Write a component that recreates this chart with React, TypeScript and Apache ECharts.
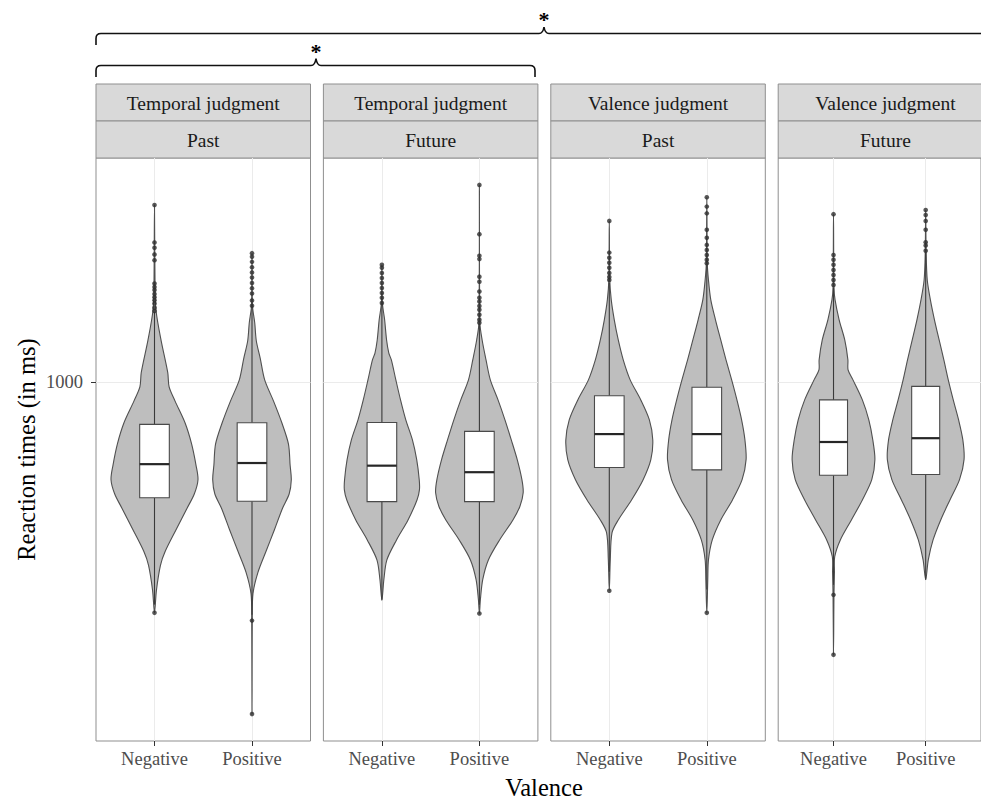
import React, { useEffect, useRef } from 'react';
import * as echarts from 'echarts';

// ---------- data ----------
const taskLabels = ['Temporal judgment', 'Temporal judgment', 'Valence judgment', 'Valence judgment'];
const timeLabels = ['Past', 'Future', 'Past', 'Future'];
const valenceCategories = ['Negative', 'Positive'];
const yTickValues = [1000];
const yTitle = 'Reaction times (in ms)';
const xTitle = 'Valence';
const significanceMarks = ['*', '*'];

// violin outlines: [reaction time (ms), half width in category units]
const tempPastNeg = [[1872, 0], [1385, 0.006], [1282, 0.017], [1157, 0.068], [1033, 0.136], [982, 0.15], [934, 0.211], [865, 0.313], [802, 0.381], [744, 0.426], [707, 0.446], [672, 0.408], [639, 0.334], [592, 0.221], [548, 0.109], [522, 0.061], [478, 0.02], [441, 0]];
const tempPastPos = [[1578, 0], [1310, 0.005], [1233, 0.028], [1157, 0.044], [1086, 0.085], [1007, 0.13], [934, 0.221], [865, 0.306], [802, 0.374], [744, 0.391], [707, 0.403], [672, 0.381], [639, 0.313], [592, 0.23], [548, 0.143], [509, 0.061], [472, 0.01], [429, 0.003], [308, 0]];
const tempFutNeg = [[1514, 0], [1323, 0.005], [1246, 0.028], [1160, 0.048], [1107, 0.071], [1081, 0.097], [1007, 0.143], [938, 0.191], [874, 0.245], [814, 0.313], [759, 0.357], [707, 0.383], [682, 0.385], [658, 0.36], [613, 0.268], [571, 0.15], [532, 0.051], [496, 0.02], [461, 0]];
const tempFutPos = [[2010, 0], [1233, 0.005], [1160, 0.028], [1081, 0.068], [1007, 0.112], [938, 0.191], [874, 0.262], [814, 0.327], [759, 0.388], [707, 0.436], [675, 0.449], [643, 0.415], [613, 0.344], [571, 0.207], [532, 0.092], [496, 0.034], [462, 0.01], [440, 0]];
const valPastNeg = [[1769, 0], [1435, 0.005], [1337, 0.02], [1246, 0.051], [1160, 0.092], [1081, 0.143], [1007, 0.214], [938, 0.323], [874, 0.411], [814, 0.446], [759, 0.426], [707, 0.347], [658, 0.228], [613, 0.092], [586, 0.028], [532, 0.01], [477, 0]];
const valPastPos = [[1924, 0], [1523, 0.005], [1435, 0.017], [1337, 0.041], [1246, 0.089], [1160, 0.143], [1081, 0.197], [1007, 0.255], [938, 0.309], [874, 0.357], [814, 0.391], [759, 0.403], [707, 0.362], [658, 0.263], [613, 0.143], [571, 0.056], [532, 0.017], [496, 0.01], [441, 0]];
const valFutNeg = [[1812, 0], [1400, 0.005], [1337, 0.017], [1246, 0.061], [1160, 0.122], [1081, 0.156], [1043, 0.158], [1007, 0.211], [938, 0.313], [874, 0.383], [814, 0.426], [759, 0.449], [707, 0.415], [658, 0.313], [613, 0.194], [571, 0.074], [538, 0.013], [509, 0.01], [470, 0.005], [380, 0]];
const valFutPos = [[1839, 0], [1580, 0.005], [1435, 0.017], [1337, 0.051], [1246, 0.095], [1160, 0.146], [1081, 0.197], [1007, 0.245], [938, 0.299], [874, 0.357], [814, 0.403], [759, 0.416], [707, 0.367], [658, 0.263], [613, 0.163], [571, 0.08], [532, 0.028], [496, 0]];

// box stats: [lower whisker, Q1, median, Q3, upper whisker]
const boxTempPast = [[454, 663, 747, 860, 1282], [438, 655, 750, 865, 1300]];
const boxTempFut = [[462, 654, 743, 866, 1315], [454, 654, 726, 839, 1225]];
const boxValPast = [[510, 738, 831, 952, 1420], [479, 732, 831, 981, 1510]];
const boxValFut = [[487, 718, 808, 938, 1395], [496, 720, 819, 984, 1580]];

// outliers (ms)
const outTempPastNeg = [1872, 1639, 1608, 1571, 1539, 1417, 1400, 1385, 1365, 1350, 1335, 1320, 1300, 1285, 441];
const outTempPastPos = [1578, 1558, 1530, 1501, 1474, 1447, 1420, 1394, 1368, 1334, 1310, 429, 308];
const outTempFutNeg = [1514, 1498, 1471, 1445, 1420, 1395, 1370, 1347, 1323];
const outTempFutPos = [2010, 1688, 1563, 1545, 1452, 1426, 1377, 1347, 1329, 1309, 1291, 1268, 1246, 1233, 440];
const outValPastNeg = [1769, 1581, 1552, 1525, 1498, 1471, 1450, 1435, 477];
const outValPastPos = [1924, 1861, 1817, 1714, 1666, 1625, 1596, 1568, 1541, 1523, 441];
const outValFutNeg = [1812, 1568, 1541, 1514, 1487, 1461, 1435, 1410, 470, 380];
const outValFutPos = [1839, 1807, 1769, 1714, 1640, 1621, 1591];

const Y_MIN = 280;
const Y_MAX = 2211;

const panelViolins = [
  [tempPastNeg, tempPastPos],
  [tempFutNeg, tempFutPos],
  [valPastNeg, valPastPos],
  [valFutNeg, valFutPos],
];
const panelBoxes = [boxTempPast, boxTempFut, boxValPast, boxValFut];
const panelOutliers = [
  [outTempPastNeg, outTempPastPos],
  [outTempFutNeg, outTempFutPos],
  [outValPastNeg, outValPastPos],
  [outValFutNeg, outValFutPos],
];

// ---------- layout ----------
const FONT = 'Liberation Serif';
const PANEL_LEFT0 = 96;
const PANEL_STEP = 227.4;
const PANEL_W = 214.5;
const PLOT_TOP = 158;
const PLOT_H = 583;
const STRIP_TOP = 84;
const STRIP_H = 37;
const BORDER = '#8f8f8f';

const dTop = 'M96 45 L96 38.5 Q96 33.5 101 33.5 L539 33.5 Q543 33.5 544 27 Q545 33.5 549 33.5 L987 33.5 Q992 33.5 992 38.5 L992 45';
const dLow = 'M96 77 L96 70.5 Q96 65.5 101 65.5 L311 65.5 Q315 65.5 316 58.5 Q317 65.5 321 65.5 L530 65.5 Q535 65.5 535 70.5 L535 77';
echarts.graphic.registerShape('braceTop', echarts.graphic.extendPath(dTop, {}));
echarts.graphic.registerShape('braceLow', echarts.graphic.extendPath(dLow, {}));

function buildOption() {
  const grid: any[] = [];
  const xAxis: any[] = [];
  const yAxis: any[] = [];
  const series: any[] = [];
  const graphic: any[] = [];

  for (let i = 0; i < 4; i++) {
    const left = PANEL_LEFT0 + i * PANEL_STEP;
    grid.push({
      left, top: PLOT_TOP, width: PANEL_W, height: PLOT_H,
      show: true, borderColor: BORDER, borderWidth: 1, backgroundColor: '#ffffff',
    });
    xAxis.push({
      type: 'value', gridIndex: i, min: 0.4, max: 2.6,
      axisLine: { show: false },
      axisTick: { show: true, customValues: [1, 2], length: 5, lineStyle: { color: '#333333', width: 1 } },
      axisLabel: {
        customValues: [1, 2],
        formatter: (v: number) => valenceCategories[Math.round(v) - 1] || '',
        color: '#4d4d4d', fontSize: 18.5, fontFamily: FONT, margin: 8,
      },
      splitLine: { show: true, lineStyle: { color: '#ebebeb', width: 1 } },
    });
    yAxis.push({
      type: 'log', logBase: 10, gridIndex: i, min: Y_MIN, max: Y_MAX,
      axisLine: { show: false },
      axisTick: { show: i === 0, customValues: yTickValues, length: 5, lineStyle: { color: '#333333', width: 1 } },
      axisLabel: {
        show: i === 0, customValues: yTickValues,
        formatter: (v: number) => String(Math.round(v)),
        color: '#4d4d4d', fontSize: 18.5, fontFamily: FONT, margin: 13,
      },
      splitLine: { show: true, lineStyle: { color: '#ebebeb', width: 1 } },
      name: i === 0 ? yTitle : '',
      nameLocation: 'middle',
      nameGap: 57,
      nameTextStyle: { color: '#000000', fontSize: 24.5, fontFamily: FONT },
    });

    const violins = panelViolins[i];
    const boxes = panelBoxes[i];
    series.push({
      type: 'custom', xAxisIndex: i, yAxisIndex: i, silent: true,
      data: boxes.map((b, k) => [k + 1, b[2]]),
      encode: { x: 0, y: 1 },
      renderItem: (params: any, api: any) => {
        const k = params.dataIndex;
        const outline = violins[k];
        const xc = k + 1;
        const right = outline.map(([v, w]) => api.coord([xc + w, v]));
        const leftSide = outline.filter(([, w]) => w > 0).map(([v, w]) => api.coord([xc - w, v])).reverse();
        return {
          type: 'polygon',
          shape: { points: right.concat(leftSide), smooth: 0.3 },
          style: { fill: '#bebebe', stroke: '#505050', lineWidth: 1.1 },
        };
      },
    });
    series.push({
      type: 'custom', xAxisIndex: i, yAxisIndex: i, silent: true,
      data: boxes.map((b, k) => [k + 1, b[2]]),
      encode: { x: 0, y: 1 },
      renderItem: (params: any, api: any) => {
        const k = params.dataIndex;
        const [lo, q1, med, q3, hi] = boxes[k];
        const xc = k + 1;
        const hw = 0.152;
        const tl = api.coord([xc - hw, q3]);
        const br = api.coord([xc + hw, q1]);
        const pHi = api.coord([xc, hi]);
        const pLo = api.coord([xc, lo]);
        const pQ3 = api.coord([xc, q3]);
        const pQ1 = api.coord([xc, q1]);
        const mL = api.coord([xc - hw, med]);
        const mR = api.coord([xc + hw, med]);
        return {
          type: 'group',
          children: [
            { type: 'line', shape: { x1: pHi[0], y1: pHi[1], x2: pQ3[0], y2: pQ3[1] }, style: { stroke: '#3a3a3a', lineWidth: 1.1 } },
            { type: 'line', shape: { x1: pLo[0], y1: pLo[1], x2: pQ1[0], y2: pQ1[1] }, style: { stroke: '#3a3a3a', lineWidth: 1.1 } },
            { type: 'rect', shape: { x: tl[0], y: tl[1], width: br[0] - tl[0], height: br[1] - tl[1] }, style: { fill: '#ffffff', stroke: '#4a4a4a', lineWidth: 1.1 } },
            { type: 'line', shape: { x1: mL[0], y1: mL[1], x2: mR[0], y2: mR[1] }, style: { stroke: '#262626', lineWidth: 2.2 } },
          ],
        };
      },
    });
    const outs = panelOutliers[i];
    series.push({
      type: 'scatter', xAxisIndex: i, yAxisIndex: i, silent: true,
      symbol: 'circle', symbolSize: 4.6,
      itemStyle: { color: '#2e2e2e' },
      data: [...outs[0].map((v) => [1, v]), ...outs[1].map((v) => [2, v])],
    });

    // strips
    graphic.push({
      type: 'rect', shape: { x: left, y: STRIP_TOP, width: PANEL_W, height: STRIP_H },
      style: { fill: '#d9d9d9', stroke: BORDER, lineWidth: 1 }, silent: true,
    });
    graphic.push({
      type: 'rect', shape: { x: left, y: STRIP_TOP + STRIP_H, width: PANEL_W, height: STRIP_H },
      style: { fill: '#d9d9d9', stroke: BORDER, lineWidth: 1 }, silent: true,
    });
    graphic.push({
      type: 'text', x: left + PANEL_W / 2, y: STRIP_TOP + STRIP_H / 2 + 1, silent: true,
      style: { text: taskLabels[i], fontSize: 19.5, fontFamily: FONT, fill: '#1a1a1a', align: 'center', verticalAlign: 'middle' },
    });
    graphic.push({
      type: 'text', x: left + PANEL_W / 2, y: STRIP_TOP + STRIP_H * 1.5 + 1, silent: true,
      style: { text: timeLabels[i], fontSize: 19.5, fontFamily: FONT, fill: '#1a1a1a', align: 'center', verticalAlign: 'middle' },
    });
  }

  graphic.push({ type: 'braceTop', silent: true, style: { stroke: '#111111', fill: 'none', lineWidth: 1.6 } });
  graphic.push({ type: 'braceLow', silent: true, style: { stroke: '#111111', fill: 'none', lineWidth: 1.6 } });
  graphic.push({
    type: 'text', x: 544, y: 19, silent: true,
    style: { text: significanceMarks[0], fontSize: 22, fontWeight: 'bold', fontFamily: FONT, fill: '#000', align: 'center', verticalAlign: 'middle' },
  });
  graphic.push({
    type: 'text', x: 316, y: 51, silent: true,
    style: { text: significanceMarks[1], fontSize: 22, fontWeight: 'bold', fontFamily: FONT, fill: '#000', align: 'center', verticalAlign: 'middle' },
  });
  graphic.push({
    type: 'text', x: 544, y: 787, silent: true,
    style: { text: xTitle, fontSize: 24.5, fontFamily: FONT, fill: '#000', align: 'center', verticalAlign: 'middle' },
  });

  return {
    animation: false,
    backgroundColor: '#ffffff',
    grid, xAxis, yAxis, series, graphic,
  };
}

export default function App() {
  const ref = useRef<HTMLDivElement>(null);
  useEffect(() => {
    if (!ref.current) return;
    const chart = echarts.init(ref.current, null, { renderer: 'svg' });
    chart.setOption(buildOption() as any);
    return () => chart.dispose();
  }, []);
  return (
    <div
      ref={ref}
      style={{ position: 'absolute', left: 0, top: 0, width: 981, height: 799, overflow: 'hidden', background: '#fff' }}
    />
  );
}
